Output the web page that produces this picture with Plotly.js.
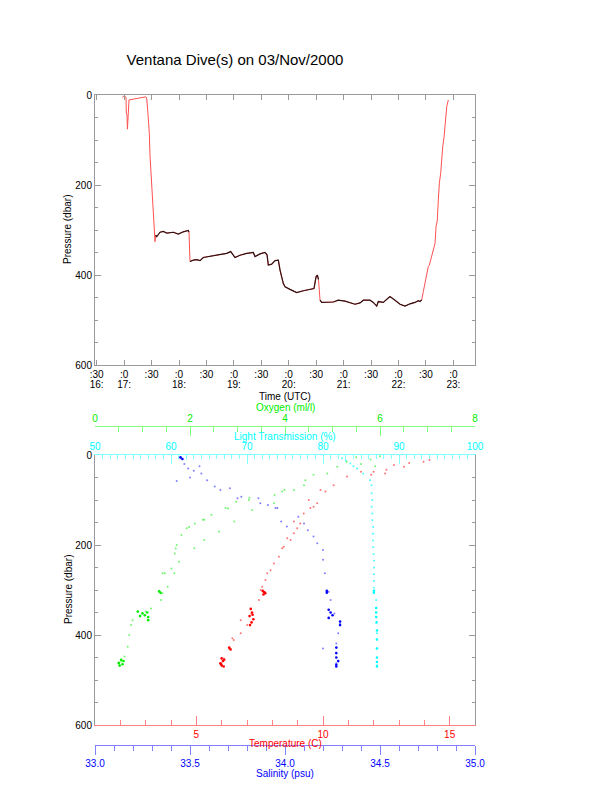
<!DOCTYPE html>
<html><head><meta charset="utf-8">
<script src="https://cdn.plot.ly/plotly-3.0.1.min.js"></script>
<style>html,body{margin:0;padding:0;background:#fff}#c{width:612px;height:785px}</style>
</head><body><div id="c"></div>
<script>
// ---- Top panel: pressure vs time (decimal hours UTC)
var timeHr = [16.967,17.000,17.016,17.034,17.040,17.052,17.060,17.065,17.070,17.089,17.398,17.410,17.429,17.459,17.471,17.502,17.521,17.544,17.563,17.575,17.593,17.654,17.714,17.776,17.896,17.987,18.078,18.169,18.182,18.200,18.260,18.323,18.383,18.443,18.565,18.747,18.869,18.942,19.020,19.112,19.234,19.354,19.385,19.476,19.567,19.604,19.627,19.689,19.750,19.810,19.841,19.901,19.932,20.023,20.145,20.265,20.418,20.460,20.497,20.520,20.542,20.570,20.601,20.812,20.903,21.025,21.207,21.299,21.359,21.481,21.541,21.603,21.632,21.723,21.796,21.845,21.936,22.028,22.119,22.210,22.301,22.361,22.392,22.423,22.452,22.483,22.514,22.525,22.543,22.562,22.605,22.634,22.665,22.684,22.707,22.726,22.744,22.769,22.788,22.806,22.830,22.848,22.866,22.879,22.908];
var pressTop = [5,2,4,5,40,45,76,60,35,11,4,6,33,85,133,204,244,285,326,311,315,305,303,307,305,309,304,301,305,370,367,366,368,361,358,355,352,348,361,356,352,350,359,353,350,355,378,376,368,367,389,419,426,432,439,435,432,430,404,400,410,456,461,460,456,458,465,462,456,456,461,469,459,461,452,448,456,465,469,464,461,457,459,455,437,419,400,396,381,378,356,344,330,293,278,233,196,174,137,115,93,70,56,26,11];
var bottomStart = 17.575, bottomEnd = 22.423;
var timeTickVals = [16.5,17,17.5,18,18.5,19,19.5,20,20.5,21,21.5,22,22.5,23];
var minuteLabels = [":30",":0",":30",":0",":30",":0",":30",":0",":30",":0",":30",":0",":30",":0"];
var hourLabels = ["16:","17:","","18:","","19:","","20:","","21:","","22:","","23:"];

// ---- Bottom panel profiles (value, pressure)
var tempT = [14.2,13.97,13.4,13.2,12.8,12.5,12.45,12.0,11.9,11.5,10.95,10.42,10.1,9.9,9.77,9.63,9.5,9.44,9.24,9.1,8.98,8.85,8.85,8.72,8.59,8.45,8.39,8.26,8.06,7.93,7.8,7.73,7.6,7.54,7.69,7.47,7.17,7.01,6.75,6.75,6.48,6.42,6.29,6.09,5.96];
var tempP = [11,15,18,26,22,33,41,37,44,37,48,67,81,78,107,115,118,100,130,152,163,174,148,189,185,204,207,226,241,256,263,278,293,300,304,322,352,378,396,367,411,407,430,452,463];
var tempDenseT = [7.62,7.68,7.72,7.65,7.15,7.2,7.1,7.25,7.18,7.12,7.22,6.3,6.35,6.0,6.05,5.95,6.1,6.0,6.08,5.98];
var tempDenseP = [302,305,307,310,342,350,358,365,372,378,355,428,432,452,458,463,455,468,470,465];

var salS = [33.45,33.47,33.49,33.55,33.52,33.56,33.5,33.43,33.59,33.63,33.71,33.66,33.75,33.77,33.86,33.87,33.91,33.95,33.96,33.98,34.01,34.07,34.10,34.12,34.15,34.17,34.20,34.20,34.21,34.23,34.24,34.26,34.29,34.28,34.27,34.20,34.27,34.27];
var salP = [7,20,30,25,35,41,50,58,56,70,74,78,96,93,96,107,111,118,118,148,159,137,152,167,181,196,211,233,263,304,322,352,374,396,419,430,441,463];
var salDenseS = [34.23,34.24,34.25,34.23,34.29,34.29,34.27,34.27,34.27,34.28,34.27,34.27,34.22,34.22,33.45,33.46];
var salDenseP = [344,350,356,362,370,378,428,440,450,458,466,470,302,306,5,9];

var lightL = [82.5,83.0,83.6,84.0,84.5,85.3,86.2,86.4,86.4,86.5,86.4,86.5,86.5,86.6,86.6,86.6,86.6,86.65,86.7,86.7,86.7,86.7,86.7,86.7,87.0,87.1,87.1,87.1];
var lightP = [7,12,19,25,30,41,56,67,85,100,115,130,145,160,175,190,205,220,235,250,265,280,295,304,322,396,430,467];
var lightDenseL = [87.0,87.0,87.0,87.05,87.1,87.1,87.1,87.1,87.1,87.1,86.7,86.7];
var lightDenseP = [340,350,360,372,390,410,430,450,460,470,302,306];

var oxyO = [6.0,5.5,5.3,5.8,5.6,5.9,5.1,4.89,4.6,4.43,4.40,3.99,3.94,3.78,3.25,3.24,2.97,2.8,2.75,2.45,2.3,2.27,2.1,1.98,1.93,1.82,1.72,1.70,1.68,1.61,1.47,1.42,1.36,1.39,1.18,1.07,0.79,0.76,0.72,0.69,0.62,0.55,0.51,4.19,3.77,3.31,2.93,2.61,2.30,2.09,1.77,1.67,1.53,1.42];
var oxyP = [3,5,15,10,20,25,26,41,44,56,67,78,81,89,95,100,104,119,118,133,144,144,152,160,163,178,200,208,219,252,263,263,304,322,341,348,367,378,400,426,448,459,467,78,107,122,148,170,189,207,237,263,293,307];
var oxyDenseO = [0.9,1.0,1.05,1.1,1.12,0.95,1.12,0.55,0.5,0.6,0.52,0.58,1.35,1.38];
var oxyDenseP = [348,352,356,350,360,358,367,455,462,458,468,465,303,306];

var RED='#ff0000', BLUE='#0000ff', CYAN='#00ffff', GREEN='#00ee00', GRAY='#9a9a9a';
var FAM = 'Liberation Sans, Arial, sans-serif';
var FS = 10;
var FONT = {family:FAM, size:FS, color:'#000'};

var blackT = [], blackP = [];
for (var i=0;i<timeHr.length;i++){
  var t=timeHr[i];
  if (t>=bottomStart && t<=bottomEnd){
    if (i>0 && Math.abs(pressTop[i]-pressTop[i-1])>30 && blackT.length){ blackT.push(null); blackP.push(null); }
    blackT.push(t); blackP.push(pressTop[i]);
  }
}

function pts(x,y,xa,color,size,op){return {x:x,y:y,xaxis:xa,yaxis:'y2',type:'scatter',mode:'markers',marker:{color:color,size:size,opacity:op},hoverinfo:'none',showlegend:false};}

var data = [
  {x:timeHr,y:pressTop,type:'scatter',mode:'lines',line:{color:'#ff5050',width:1},showlegend:false,hoverinfo:'none'},
  {x:blackT,y:blackP,type:'scatter',mode:'lines',line:{color:'#301010',width:1.2},connectgaps:false,showlegend:false,hoverinfo:'none'},
  // hour-label axis shares the time scale (no marks of its own)
  {x:[],y:[],xaxis:'x6',yaxis:'y',type:'scatter',mode:'lines',showlegend:false,hoverinfo:'none'},
  pts(oxyO,oxyP,'x5',GREEN,2,0.55),
  pts(oxyDenseO,oxyDenseP,'x5',GREEN,2.6,1),
  pts(tempT,tempP,'x2',RED,2,0.55),
  pts(tempDenseT,tempDenseP,'x2',RED,2.6,1),
  pts(salS,salP,'x3',BLUE,2,0.5),
  pts(salDenseS,salDenseP,'x3',BLUE,2.6,1),
  pts(lightL,lightP,'x4',CYAN,2,0.7),
  pts(lightDenseL,lightDenseP,'x4',CYAN,2.6,1)
];

function py(px){return 1-px/785;}
function ann(text,x,y,color,rot){return {text:text,xref:'paper',yref:'paper',x:x/612,y:py(y),xanchor:'center',yanchor:'middle',showarrow:false,textangle:rot||0,font:{family:FAM,size:FS,color:color}};}

var tdom = [95/612, 475/612];
var layout = {
  width:612, height:785, margin:{l:0,r:0,t:0,b:0},
  paper_bgcolor:'#fff', plot_bgcolor:'#fff', font:FONT, showlegend:false,
  title:{text:'Ventana Dive(s) on 03/Nov/2000', x:235/612, xanchor:'center', y:py(60), yanchor:'middle', font:{family:FAM, size:15, color:'#000'}},
  xaxis:{domain:tdom, anchor:'y', range:[16.469,23.394], tickvals:timeTickVals, ticktext:minuteLabels, ticks:'inside', ticklen:5, tickcolor:GRAY, showline:true, linecolor:GRAY, mirror:'ticks', showgrid:false, zeroline:false},
  xaxis6:{overlaying:'x', anchor:'free', position:py(377), side:'bottom', range:[16.469,23.394], tickvals:timeTickVals, ticktext:hourLabels, ticks:'', showline:false, showgrid:false, zeroline:false},
  yaxis:{domain:[py(365), py(95)], anchor:'x', range:[600,0], tickvals:[0,200,400,600], ticks:'inside', ticklen:6, tickcolor:GRAY, showline:true, linecolor:GRAY, mirror:'ticks', showgrid:false, zeroline:false,
    minor:{dtick:50, ticks:'inside', ticklen:3, tickcolor:GRAY}},
  xaxis2:{domain:tdom, anchor:'y2', range:[1,16], tickvals:[5,10,15], ticks:'inside', ticklen:9, tickcolor:'#ff8080', showline:true, linecolor:'#ff8080', showgrid:false, zeroline:false, tickfont:{color:RED},
    minor:{dtick:1, ticks:'inside', ticklen:5, tickcolor:'#ff8080'}},
  xaxis3:{overlaying:'x2', anchor:'free', position:py(745), side:'bottom', range:[33,35], tickvals:[33,33.5,34,34.5,35], ticktext:['33.0','33.5','34.0','34.5','35.0'], ticks:'outside', ticklen:9, tickcolor:'#8080ff', showline:true, linecolor:'#8080ff', showgrid:false, zeroline:false, tickfont:{color:BLUE},
    minor:{dtick:0.1, ticks:'outside', ticklen:5, tickcolor:'#8080ff'}},
  xaxis4:{overlaying:'x2', anchor:'y2', side:'top', range:[50,100], tickvals:[50,60,70,80,90,100], ticks:'inside', ticklen:9, tickcolor:'#80ffff', showline:true, linecolor:'#80ffff', showgrid:false, zeroline:false, tickfont:{color:CYAN},
    minor:{dtick:1, ticks:'inside', ticklen:4, tickcolor:'#80ffff'}},
  xaxis5:{overlaying:'x2', anchor:'free', position:py(426), side:'top', range:[0,8], tickvals:[0,2,4,6,8], ticks:'inside', ticklen:9, tickcolor:'#80ff80', showline:true, linecolor:'#80ff80', showgrid:false, zeroline:false, tickfont:{color:GREEN},
    minor:{dtick:0.5, ticks:'inside', ticklen:5, tickcolor:'#80ff80'}},
  yaxis2:{domain:[py(725), py(455)], anchor:'x2', range:[600,0], tickvals:[0,200,400,600], ticks:'inside', ticklen:6, tickcolor:GRAY, showline:true, linecolor:GRAY, mirror:'ticks', showgrid:false, zeroline:false,
    minor:{dtick:50, ticks:'inside', ticklen:3, tickcolor:GRAY}},
  annotations:[
    ann('Time (UTC)',285,396,'#000'),
    ann('Pressure (dbar)',68,230,'#000',-90),
    ann('Oxygen (ml/l)',285,407,GREEN),
    ann('Light Transmission (%)',285,436,CYAN),
    ann('Pressure (dbar)',68,590,'#000',-90),
    ann('Temperature (C)',285,743,RED),
    ann('Salinity (psu)',285,773,BLUE)
  ]
};
Plotly.newPlot('c', data, layout, {staticPlot:true, displayModeBar:false});
</script></body></html>
